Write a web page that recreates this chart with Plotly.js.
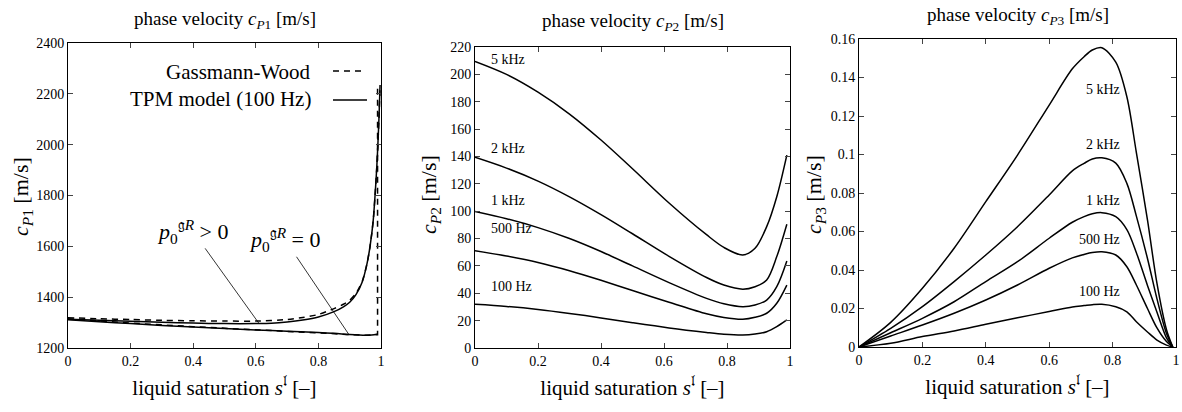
<!DOCTYPE html>
<html>
<head>
<meta charset="utf-8">
<script src="https://cdn.plot.ly/plotly-3.0.1.min.js"></script>
<style>html,body{margin:0;padding:0;background:#fff}#chart{width:1182px;height:412px}</style>
</head>
<body>
<div id="chart"></div>
<script>
// ---- Panel 1: c_P1 ----
const s1_tpmHigh = [0, 0.1, 0.2, 0.3, 0.4, 0.5, 0.6, 0.65, 0.7, 0.75, 0.8, 0.85, 0.88, 0.9, 0.92, 0.94, 0.955, 0.965, 0.975, 0.981, 0.986, 0.99, 0.994, 0.997];
const c1_tpmHigh = [1313, 1309, 1305, 1301, 1298, 1296, 1296, 1297, 1302, 1310, 1322, 1343, 1362, 1380, 1410, 1460, 1530, 1600, 1700, 1800, 1900, 2000, 2120, 2235];
const s1_gwHigh = [0, 0.1, 0.2, 0.3, 0.4, 0.5, 0.6, 0.7, 0.75, 0.8, 0.85, 0.88, 0.9, 0.92, 0.94, 0.955, 0.965, 0.975, 0.981, 0.986, 0.99, 0.994, 0.997];
const c1_gwHigh = [1319, 1315, 1312, 1309, 1307, 1306, 1306, 1312, 1320, 1332, 1355, 1372, 1388, 1415, 1462, 1530, 1600, 1700, 1800, 1900, 2000, 2120, 2230];
const s1_tpmZero = [0, 0.1, 0.2, 0.3, 0.4, 0.5, 0.6, 0.7, 0.8, 0.85, 0.9, 0.95, 0.97, 0.99];
const c1_tpmZero = [1311, 1303, 1296, 1289, 1283, 1277, 1271, 1266, 1261, 1258, 1253, 1250, 1251, 1255];
const s1_gwZero = [0, 0.2, 0.4, 0.6, 0.8, 0.9, 0.95, 0.989, 0.989];
const c1_gwZero = [1315, 1298, 1284, 1272, 1261, 1253, 1250, 1252, 2230];

// ---- Panel 2: c_P2 ----
const s2 = [0, 0.1, 0.2, 0.3, 0.4, 0.5, 0.616, 0.735, 0.79, 0.85, 0.889, 0.926, 0.958, 0.99];
const c2_5k  = [209.5, 200, 187, 171, 152, 131, 106, 82.8, 73.5, 68, 72.9, 88.7, 110.6, 141];
const c2_2k  = [139.4, 131.5, 122, 110.5, 97.5, 83.5, 67, 51.5, 46, 43, 44.8, 49.7, 66.8, 90.5];
const c2_1k  = [99.8, 94.5, 88, 80, 70.5, 60, 47.8, 36.3, 32.3, 30.2, 31.4, 35, 44.8, 63.6];
const c2_500 = [71.1, 67.2, 62.5, 56.5, 49.5, 42, 33.5, 25, 22.3, 21, 22.4, 25.4, 32.7, 46];
const c2_100 = [31.9, 30.4, 28.2, 25.3, 22, 18.5, 14.7, 11.4, 10.1, 9.5, 10.2, 11.9, 15.6, 20.5];
const labels2 = ["5 kHz", "2 kHz", "1 kHz", "500 Hz", "100 Hz"];
const labelY2 = [211, 146, 108, 87, 45];

// ---- Panel 3: c_P3 ----
const s3 = [0, 0.1, 0.2, 0.3, 0.4, 0.5, 0.6, 0.673, 0.71, 0.736, 0.766, 0.81, 0.845, 0.875, 0.91, 0.94, 0.97, 0.99];
const c3_5k  = [0, 0.0128, 0.0305, 0.0513, 0.0755, 0.0997, 0.1257, 0.1445, 0.1508, 0.1543, 0.1555, 0.148, 0.130, 0.101, 0.066, 0.033, 0.009, 0];
const c3_2k  = [0, 0.0097, 0.021, 0.034, 0.0478, 0.0625, 0.079, 0.0915, 0.0954, 0.0977, 0.0983, 0.0955, 0.085, 0.068, 0.046, 0.025, 0.007, 0];
const c3_1k  = [0, 0.0074, 0.0149, 0.0235, 0.034, 0.0443, 0.0565, 0.0648, 0.0677, 0.0692, 0.0698, 0.0677, 0.061, 0.049, 0.032, 0.018, 0.0047, 0];
const c3_500 = [0, 0.0057, 0.0114, 0.0175, 0.0244, 0.0322, 0.0409, 0.0463, 0.0481, 0.0491, 0.0495, 0.0478, 0.0417, 0.0322, 0.020, 0.0099, 0.0028, 0];
const c3_100 = [0, 0.0019, 0.0054, 0.0083, 0.0118, 0.0152, 0.0184, 0.0208, 0.0215, 0.0220, 0.0222, 0.0209, 0.0183, 0.0131, 0.0078, 0.0036, 0.001, 0];
const labels3 = ["5 kHz", "2 kHz", "1 kHz", "500 Hz", "100 Hz"];
const labelY3 = [0.134, 0.105, 0.076, 0.056, 0.029];

const xTicks = [0, 0.2, 0.4, 0.6, 0.8, 1];
const xTickText = ["0", "0.2", "0.4", "0.6", "0.8", "1"];

const FONT = "Liberation Serif";
const solid = {color: "#000", width: 1.5, shape: "spline", smoothing: 0.9};
const dashed = {color: "#000", width: 1.5, dash: "6px,5px", shape: "spline", smoothing: 0.7};

const traces = [
  {x: s1_gwHigh, y: c1_gwHigh, mode: "lines", line: dashed, xaxis: "x", yaxis: "y", showlegend: false},
  {x: s1_gwZero, y: c1_gwZero, mode: "lines", line: Object.assign({}, dashed, {shape: "linear"}), xaxis: "x", yaxis: "y", showlegend: false},
  {x: s1_tpmHigh, y: c1_tpmHigh, mode: "lines", line: Object.assign({}, solid, {smoothing: 0.7}), xaxis: "x", yaxis: "y", showlegend: false},
  {x: s1_tpmZero, y: c1_tpmZero, mode: "lines", line: solid, xaxis: "x", yaxis: "y", showlegend: false}
];
[c2_5k, c2_2k, c2_1k, c2_500, c2_100].forEach(c => traces.push({x: s2, y: c, mode: "lines", line: solid, xaxis: "x2", yaxis: "y2", showlegend: false}));
[c3_5k, c3_2k, c3_1k, c3_500, c3_100].forEach(c => traces.push({x: s3, y: c, mode: "lines", line: solid, xaxis: "x3", yaxis: "y3", showlegend: false}));

function xax(domain) {
  return {domain: domain, range: [0, 1], tickvals: xTicks, ticktext: xTickText, ticks: "inside", ticklen: 5,
    showline: true, linecolor: "#000", linewidth: 1, mirror: "ticks", showgrid: false, zeroline: false,
    tickfont: {family: FONT, size: 14, color: "#000"},
    title: {text: "liquid saturation <i>s</i><sup>𝔩</sup> [–]", font: {family: FONT, size: 21, color: "#000"}, standoff: 12}};
}
function yax(domain, range, dtick, fmt, anchor) {
  return {domain: domain, range: range, dtick: dtick, tick0: range[0], tickformat: fmt, ticks: "inside", ticklen: 5,
    showline: true, linecolor: "#000", linewidth: 1, mirror: "ticks", showgrid: false, zeroline: false,
    anchor: anchor, tickfont: {family: FONT, size: 14, color: "#000"}};
}

const annotations = [];
function title(text, x, y) {
  annotations.push({text: text, xref: "paper", yref: "paper", x: x, y: y, xanchor: "center", yanchor: "middle",
    showarrow: false, font: {family: FONT, size: 19, color: "#000"}});
}
title("phase velocity <i>c</i><sub><i>P</i>1</sub> [m/s]", 225/1182, 1 - 20/412);
title("phase velocity <i>c</i><sub><i>P</i>2</sub> [m/s]", 633/1182, 1 - 22/412);
title("phase velocity <i>c</i><sub><i>P</i>3</sub> [m/s]", 1018/1182, 1 - 16/412);
function ytitle(text, x, y) {
  annotations.push({text: text, xref: "paper", yref: "paper", x: x, y: y, xanchor: "center", yanchor: "middle",
    textangle: -90, showarrow: false, font: {family: FONT, size: 22, color: "#000"}});
}
ytitle("<i>c</i><sub><i>P</i>1</sub> [m/s]", 22/1182, 1 - 197/412);
ytitle("<i>c</i><sub><i>P</i>2</sub> [m/s]", 430/1182, 1 - 195/412);
ytitle("<i>c</i><sub><i>P</i>3</sub> [m/s]", 815/1182, 1 - 195/412);

// legend of panel 1 (text left of sample, as in reference)
annotations.push({text: "Gassmann-Wood", xref: "paper", yref: "paper", x: 313/1182, y: 1 - 72/412, xanchor: "right", yanchor: "middle", showarrow: false, font: {family: FONT, size: 21, color: "#000"}});
annotations.push({text: "TPM model (100 Hz)", xref: "paper", yref: "paper", x: 313/1182, y: 1 - 99/412, xanchor: "right", yanchor: "middle", showarrow: false, font: {family: FONT, size: 21, color: "#000"}});

// pressure labels with leader lines
annotations.push({text: "<i>p</i><sub>0</sub><sup>𝔤<i>R</i></sup> > 0", x: 0.61, y: 1297, xref: "x", yref: "y", ax: -66, ay: -92,
  showarrow: true, arrowhead: 0, arrowwidth: 0.8, arrowcolor: "#000", font: {family: FONT, size: 22, color: "#000"}});
annotations.push({text: "<i>p</i><sub>0</sub><sup>𝔤<i>R</i></sup> = 0", x: 0.898, y: 1252, xref: "x", yref: "y", ax: -64, ay: -95,
  showarrow: true, arrowhead: 0, arrowwidth: 0.8, arrowcolor: "#000", font: {family: FONT, size: 22, color: "#000"}});

labels2.forEach((t, i) => annotations.push({text: t, x: 0.045, y: labelY2[i], xref: "x2", yref: "y2", xanchor: "left", yanchor: "middle",
  showarrow: false, font: {family: FONT, size: 14, color: "#000"}}));
labels3.forEach((t, i) => annotations.push({text: t, x: 0.83, y: labelY3[i], xref: "x3", yref: "y3", xanchor: "right", yanchor: "middle",
  showarrow: false, font: {family: FONT, size: 14, color: "#000"}}));

const shapes = [
  {type: "line", xref: "paper", yref: "paper", x0: 333/1182, x1: 364/1182, y0: 1 - 71/412, y1: 1 - 71/412, line: {color: "#000", width: 1.5, dash: "6px,5px"}},
  {type: "line", xref: "paper", yref: "paper", x0: 333/1182, x1: 367/1182, y0: 1 - 100/412, y1: 1 - 100/412, line: {color: "#000", width: 1.5}}
];

const layout = {
  width: 1182, height: 412, margin: {l: 0, r: 0, t: 0, b: 0},
  paper_bgcolor: "#fff", plot_bgcolor: "#fff", showlegend: false,
  font: {family: FONT, color: "#000"},
  xaxis: Object.assign(xax([68/1182, 381/1182]), {anchor: "y"}),
  yaxis: yax([64/412, 369/412], [1200, 2400], 200, "d", "x"),
  xaxis2: Object.assign(xax([475/1182, 790/1182]), {anchor: "y2"}),
  yaxis2: yax([64/412, 365/412], [0, 220], 20, "d", "x2"),
  xaxis3: Object.assign(xax([859/1182, 1176/1182]), {anchor: "y3"}),
  yaxis3: yax([65/412, 373/412], [0, 0.16], 0.02, "", "x3"),
  annotations: annotations, shapes: shapes
};

Plotly.newPlot("chart", traces, layout, {staticPlot: true, displayModeBar: false});
</script>
</body>
</html>
